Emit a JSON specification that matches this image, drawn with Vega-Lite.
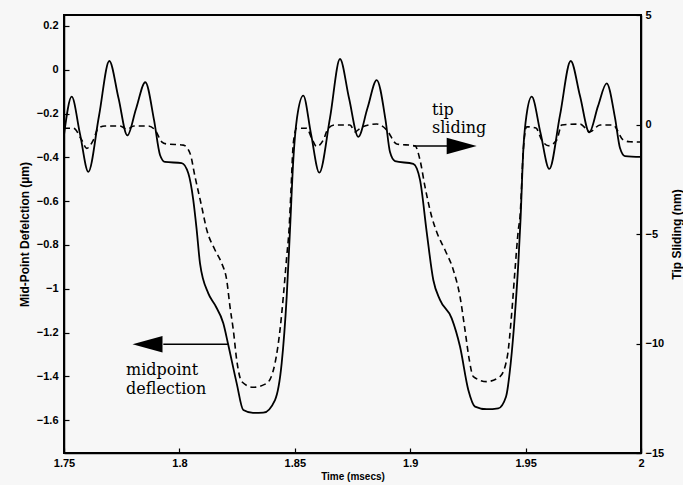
{
  "$schema": "https://vega.github.io/schema/vega-lite/v6.json",
  "width": 577,
  "height": 438,
  "autosize": "none",
  "padding": {"left": 64, "top": 15, "right": 42, "bottom": 32},
  "background": "#f7f7f7",
  "config": {
    "view": {"stroke": "black", "strokeWidth": 2},
    "axis": {
      "grid": false,
      "domainColor": "black",
      "domainWidth": 1.5,
      "tickColor": "black",
      "tickWidth": 1.2,
      "tickSize": -5,
      "labelFont": "Liberation Sans",
      "labelFontWeight": "bold",
      "labelFontSize": 11,
      "labelColor": "black",
      "labelFlush": false,
      "labelOverlap": false,
      "titleFont": "Liberation Sans",
      "titleFontWeight": "bold",
      "titleColor": "black"
    }
  },
  "datasets": {
    "deflection": [
      {"t": 1.75, "d": -0.298}, {"t": 1.75334, "d": -0.123}, {"t": 1.75693, "d": -0.293}, {"t": 1.76053, "d": -0.466},
      {"t": 1.76516, "d": -0.211}, {"t": 1.76963, "d": 0.04}, {"t": 1.77361, "d": -0.129}, {"t": 1.77743, "d": -0.3},
      {"t": 1.7812, "d": -0.179}, {"t": 1.78523, "d": -0.057}, {"t": 1.789, "d": -0.229}, {"t": 1.7916, "d": -0.389},
      {"t": 1.79376, "d": -0.421}, {"t": 1.801, "d": -0.426}, {"t": 1.80386, "d": -0.473}, {"t": 1.80602, "d": -0.595},
      {"t": 1.8075, "d": -0.732}, {"t": 1.80893, "d": -0.884}, {"t": 1.81252, "d": -1.021}, {"t": 1.81542, "d": -1.074},
      {"t": 1.81902, "d": -1.158}, {"t": 1.82119, "d": -1.257}, {"t": 1.82483, "d": -1.432}, {"t": 1.82769, "d": -1.554},
      {"t": 1.83189, "d": -1.567}, {"t": 1.83635, "d": -1.566}, {"t": 1.84142, "d": -1.508}, {"t": 1.84432, "d": -1.34},
      {"t": 1.84649, "d": -1.036}, {"t": 1.84792, "d": -0.732}, {"t": 1.84935, "d": -0.412}, {"t": 1.85095, "d": -0.22},
      {"t": 1.85368, "d": -0.118}, {"t": 1.85702, "d": -0.293}, {"t": 1.86062, "d": -0.47}, {"t": 1.86525, "d": -0.22},
      {"t": 1.86958, "d": 0.049}, {"t": 1.87348, "d": -0.129}, {"t": 1.87752, "d": -0.306}, {"t": 1.8815, "d": -0.175},
      {"t": 1.88549, "d": -0.047}, {"t": 1.8893, "d": -0.229}, {"t": 1.89125, "d": -0.376}, {"t": 1.89342, "d": -0.417},
      {"t": 1.90135, "d": -0.43}, {"t": 1.90425, "d": -0.503}, {"t": 1.90715, "d": -0.741}, {"t": 1.91001, "d": -0.96},
      {"t": 1.91291, "d": -1.051}, {"t": 1.91798, "d": -1.135}, {"t": 1.92158, "d": -1.264}, {"t": 1.92518, "d": -1.462},
      {"t": 1.92808, "d": -1.538}, {"t": 1.93315, "d": -1.55}, {"t": 1.93817, "d": -1.546}, {"t": 1.94151, "d": -1.493},
      {"t": 1.94355, "d": -1.34}, {"t": 1.94541, "d": -1.112}, {"t": 1.94684, "d": -0.884}, {"t": 1.9478, "d": -0.686},
      {"t": 1.94901, "d": -0.366}, {"t": 1.9504, "d": -0.207}, {"t": 1.95265, "d": -0.123}, {"t": 1.95646, "d": -0.289},
      {"t": 1.96027, "d": -0.453}, {"t": 1.96491, "d": -0.207}, {"t": 1.96955, "d": 0.04}, {"t": 1.97358, "d": -0.12},
      {"t": 1.9776, "d": -0.286}, {"t": 1.98137, "d": -0.166}, {"t": 1.98514, "d": -0.062}, {"t": 1.98874, "d": -0.22},
      {"t": 1.9909, "d": -0.357}, {"t": 1.99307, "d": -0.394}, {"t": 2.0, "d": -0.398}
    ],
    "sliding": [
      {"t": 1.75, "s": -0.17}, {"t": 1.75403, "s": -0.17}, {"t": 1.75767, "s": -0.71}, {"t": 1.75984, "s": -1.09},
      {"t": 1.7627, "s": -0.71}, {"t": 1.76486, "s": -0.17}, {"t": 1.76776, "s": -0.07}, {"t": 1.77426, "s": -0.07},
      {"t": 1.7773, "s": -0.21}, {"t": 1.78033, "s": -0.07}, {"t": 1.7864, "s": -0.07}, {"t": 1.78943, "s": -0.25},
      {"t": 1.79233, "s": -0.79}, {"t": 1.7945, "s": -0.89}, {"t": 1.80169, "s": -0.94}, {"t": 1.80459, "s": -1.31},
      {"t": 1.80676, "s": -2.38}, {"t": 1.80966, "s": -3.75}, {"t": 1.81183, "s": -4.8}, {"t": 1.81542, "s": -5.73},
      {"t": 1.81833, "s": -6.34}, {"t": 1.82049, "s": -7.1}, {"t": 1.82192, "s": -8.32}, {"t": 1.82336, "s": -9.38},
      {"t": 1.82483, "s": -10.75}, {"t": 1.827, "s": -11.74}, {"t": 1.83202, "s": -12.0}, {"t": 1.83783, "s": -11.82},
      {"t": 1.84142, "s": -10.9}, {"t": 1.84359, "s": -9.38}, {"t": 1.84502, "s": -7.86}, {"t": 1.84649, "s": -6.04},
      {"t": 1.84749, "s": -4.82}, {"t": 1.84835, "s": -2.99}, {"t": 1.84935, "s": -0.86}, {"t": 1.85082, "s": -0.17},
      {"t": 1.85516, "s": -0.17}, {"t": 1.85732, "s": -0.63}, {"t": 1.85949, "s": -1.01}, {"t": 1.86235, "s": -0.71},
      {"t": 1.86452, "s": -0.17}, {"t": 1.86742, "s": -0.02}, {"t": 1.87392, "s": -0.02}, {"t": 1.87608, "s": -0.33},
      {"t": 1.87912, "s": -0.11}, {"t": 1.88549, "s": 0.02}, {"t": 1.88982, "s": -0.25}, {"t": 1.89416, "s": -0.89},
      {"t": 1.90208, "s": -0.97}, {"t": 1.90425, "s": -1.62}, {"t": 1.90641, "s": -2.84}, {"t": 1.90932, "s": -4.21},
      {"t": 1.91148, "s": -4.91}, {"t": 1.91508, "s": -5.73}, {"t": 1.91868, "s": -6.64}, {"t": 1.92158, "s": -7.86},
      {"t": 1.92374, "s": -9.38}, {"t": 1.92561, "s": -10.75}, {"t": 1.92734, "s": -11.51}, {"t": 1.93315, "s": -11.74},
      {"t": 1.93891, "s": -11.51}, {"t": 1.94207, "s": -10.6}, {"t": 1.94398, "s": -8.62}, {"t": 1.94541, "s": -6.64},
      {"t": 1.94684, "s": -4.82}, {"t": 1.94758, "s": -4.21}, {"t": 1.94901, "s": -1.16}, {"t": 1.95048, "s": -0.1},
      {"t": 1.95451, "s": -0.16}, {"t": 1.95698, "s": -0.71}, {"t": 1.95984, "s": -0.97}, {"t": 1.96348, "s": -0.71},
      {"t": 1.96565, "s": -0.02}, {"t": 1.97357, "s": 0.02}, {"t": 1.97791, "s": -0.33}, {"t": 1.98224, "s": -0.02},
      {"t": 1.98787, "s": -0.02}, {"t": 1.99233, "s": -0.71}, {"t": 1.99523, "s": -0.79}, {"t": 2.0, "s": -0.8}
    ],
    "labels": [
      {"t": 1.90944, "d": -0.2066, "text": "tip"},
      {"t": 1.90944, "d": -0.2888, "text": "sliding"},
      {"t": 1.77686, "d": -1.3938, "text": "midpoint"},
      {"t": 1.77686, "d": -1.4805, "text": "deflection"}
    ],
    "arrows": [
      {"t": 1.90134, "t2": 1.91594, "d": -0.348},
      {"t": 1.79302, "t2": 1.82119, "d": -1.2536}
    ],
    "heads": [
      {"t": 1.92232, "d": -0.348, "dir": "right"},
      {"t": 1.78618, "d": -1.2536, "dir": "left"}
    ]
  },
  "layer": [
    {
      "layer": [
        {
          "data": {"name": "deflection"},
          "mark": {"type": "line", "color": "black", "strokeWidth": 1.8, "interpolate": "monotone"},
          "encoding": {
            "x": {"field": "t", "type": "quantitative", "scale": {"domain": [1.75, 2], "nice": false, "zero": false},
              "axis": {"values": [1.75, 1.8, 1.85, 1.9, 1.95, 2], "format": "~g", "labelPadding": 9, "title": "Time (msecs)", "titleFontSize": 10, "titlePadding": 3}},
            "y": {"field": "d", "type": "quantitative", "scale": {"domain": [-1.75, 0.25], "nice": false, "zero": false},
              "axis": {"orient": "left", "values": [-1.6, -1.4, -1.2, -1, -0.8, -0.6, -0.4, -0.2, 0, 0.2], "format": "~g", "labelPadding": 11, "title": "Mid-Point Defelction (µm)", "titleFontSize": 12, "titlePadding": 5}}
          }
        },
        {
          "data": {"name": "arrows"},
          "mark": {"type": "rule", "color": "black", "strokeWidth": 1.6},
          "encoding": {
            "x": {"field": "t", "type": "quantitative"},
            "x2": {"field": "t2"},
            "y": {"field": "d", "type": "quantitative"}
          }
        },
        {
          "data": {"name": "heads"},
          "mark": {"type": "point", "filled": true, "color": "black", "opacity": 1, "size": 900},
          "encoding": {
            "x": {"field": "t", "type": "quantitative"},
            "y": {"field": "d", "type": "quantitative"},
            "shape": {"field": "dir", "type": "nominal", "legend": null,
              "scale": {"domain": ["left", "right"], "range": ["M1,-0.55L-1,0L1,0.55Z", "M-1,-0.55L1,0L-1,0.55Z"]}}
          }
        },
        {
          "data": {"name": "labels"},
          "mark": {"type": "text", "font": "DejaVu Serif", "fontSize": 16, "align": "left", "baseline": "alphabetic", "color": "black"},
          "encoding": {
            "x": {"field": "t", "type": "quantitative"},
            "y": {"field": "d", "type": "quantitative"},
            "text": {"field": "text"}
          }
        }
      ]
    },
    {
      "data": {"name": "sliding"},
      "mark": {"type": "line", "color": "black", "strokeWidth": 1.6, "strokeDash": [6, 4], "interpolate": "monotone"},
      "encoding": {
        "x": {"field": "t", "type": "quantitative"},
        "y": {"field": "s", "type": "quantitative", "scale": {"domain": [-15, 5], "nice": false, "zero": false},
          "axis": {"orient": "right", "values": [-15, -10, -5, 0, 5], "format": "~g", "labelPadding": 9, "title": "Tip Sliding (nm)", "titleFontSize": 12, "titleAngle": 270, "titleBaseline": "top", "titlePadding": 8}}
      }
    }
  ],
  "resolve": {"scale": {"y": "independent"}}
}
